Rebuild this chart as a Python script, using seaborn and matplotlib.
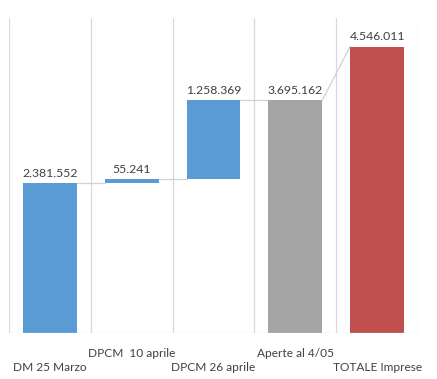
import matplotlib
matplotlib.use("Agg")
import matplotlib.pyplot as plt
import seaborn as sns
import numpy as np

categories = ["DM 25 Marzo", "DPCM  10 aprile", "DPCM 26 aprile", "Aperte al 4/05", "TOTALE Imprese"]
values = [2381552, 55241, 1258369, 3695162, 4546011]
kinds = ["step", "step", "step", "total", "total"]
bar_colors = ["#5B9BD5", "#5B9BD5", "#5B9BD5", "#A5A5A5", "#C0504D"]

# waterfall bottoms
bottoms = []
run = 0
for v, k in zip(values, kinds):
    if k == "step":
        bottoms.append(run)
        run += v
    else:
        bottoms.append(0)
bottoms = np.array(bottoms)
tops = bottoms + np.array(values)

sns.set_theme(style="white")
plt.rcParams['font.family'] = ['Lato', 'DejaVu Sans']

fig = plt.figure(figsize=(4.37, 3.79), dpi=100)
ax = fig.add_axes([9/437, 46/379, (418-9)/437, (333-18)/379])

W = 0.66
sns.barplot(x=categories, y=values, bottom=bottoms, width=W, ax=ax,
            errorbar=None, color="#5B9BD5", saturation=1, zorder=3)
for p, c in zip(ax.patches, bar_colors):
    p.set_facecolor(c)
    p.set_edgecolor("none")

ax.set_xlim(-0.5, 4.5)
ax.set_ylim(0, 5000000)

grid_c = "#D9D9D9"
for b in np.arange(-0.5, 5, 1):
    ax.axvline(b, color=grid_c, lw=0.9, zorder=1)
ax.axhline(0, color=grid_c, lw=0.9, zorder=4)

# connectors
conn_c = "#D0D0D0"
for i in range(len(values) - 1):
    if kinds[i + 1] == "step":
        y0 = tops[i]
        ax.plot([i + W/2, i + 1 - W/2], [y0, y0], color=conn_c, lw=0.9, zorder=2)
    elif kinds[i] == "step":
        ax.plot([i + W/2, i + 1 - W/2], [tops[i], tops[i]], color=conn_c, lw=0.9, zorder=2)
    else:
        ax.plot([i + W/2, i + 1 - W/2], [tops[i], tops[i + 1]], color=conn_c, lw=0.9, zorder=2)

# labels
for i, (t, v) in enumerate(zip(tops, values)):
    ax.annotate(f"{v:,}".replace(",", "."), (i, t), xytext=(0, 3), textcoords="offset points",
                ha="center", va="bottom", fontsize=8.8, color="#404040")

for s in ax.spines.values():
    s.set_visible(False)
ax.set_yticks([])
ax.set_xticks(range(len(categories)))
ax.set_xticklabels([("\n" + c) if i % 2 == 0 else c for i, c in enumerate(categories)],
                   fontsize=8.6, color="#404040", linespacing=1.4)
ax.tick_params(axis="x", length=0, pad=10.5)
ax.set_xlabel("")
ax.set_ylabel("")

fig.savefig("out.png", dpi=100)
